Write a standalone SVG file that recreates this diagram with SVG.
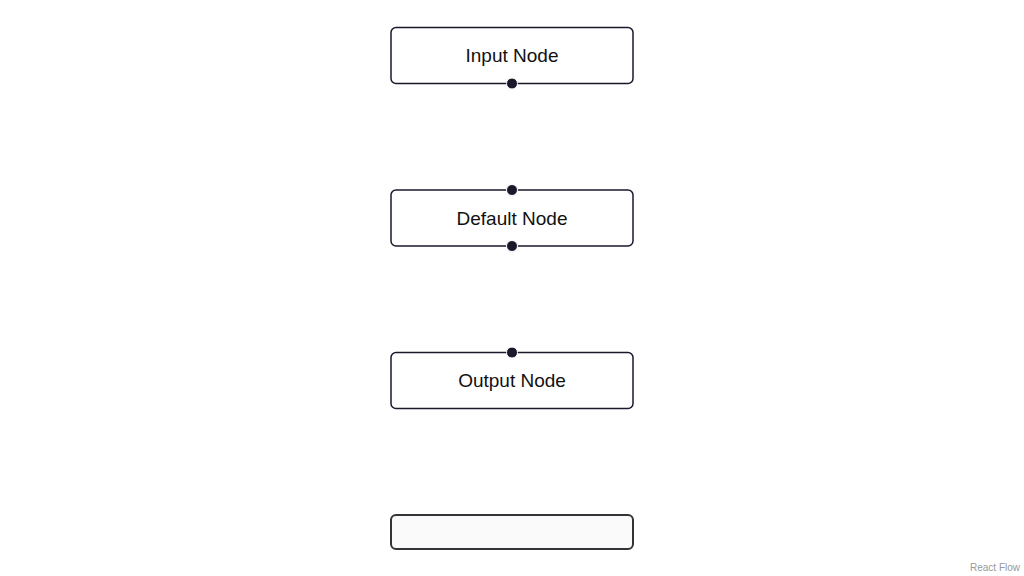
<svg xmlns="http://www.w3.org/2000/svg" width="1024" height="576" viewBox="0 0 1024 576">
<style>
.node{fill:#ffffff;stroke:#1a192b;stroke-width:1.5}
.group{fill:#fafafa;stroke:#333338;stroke-width:2}
.lbl{font-family:"Liberation Sans",Arial,sans-serif;font-size:19px;fill:#111;text-anchor:middle;dominant-baseline:central}
.handle{fill:#1a192b;stroke:#ffffff;stroke-width:1}
.attr{font-family:"Liberation Sans",Arial,sans-serif;font-size:10px;fill:#999;text-anchor:end}
</style>
<rect width="1024" height="576" fill="#ffffff"/>
<g id="connectors"></g>
<g id="input-node">
<rect class="node" x="391" y="27.5" width="242" height="56" rx="5"/>
<text class="lbl" x="512" y="55.5">Input Node</text>
<circle class="handle" cx="512" cy="83.5" r="5.5"/>
</g>
<g id="default-node">
<rect class="node" x="391" y="190" width="242" height="56" rx="5"/>
<text class="lbl" x="512" y="218">Default Node</text>
<circle class="handle" cx="512" cy="190" r="5.5"/>
<circle class="handle" cx="512" cy="246" r="5.5"/>
</g>
<g id="output-node">
<rect class="node" x="391" y="352.5" width="242" height="56" rx="5"/>
<text class="lbl" x="512" y="380.5">Output Node</text>
<circle class="handle" cx="512" cy="352.5" r="5.5"/>
</g>
<g id="group-node">
<rect class="group" x="391" y="515" width="242" height="34" rx="5"/>
</g>
<text class="attr" x="1020" y="571">React Flow</text>
</svg>
